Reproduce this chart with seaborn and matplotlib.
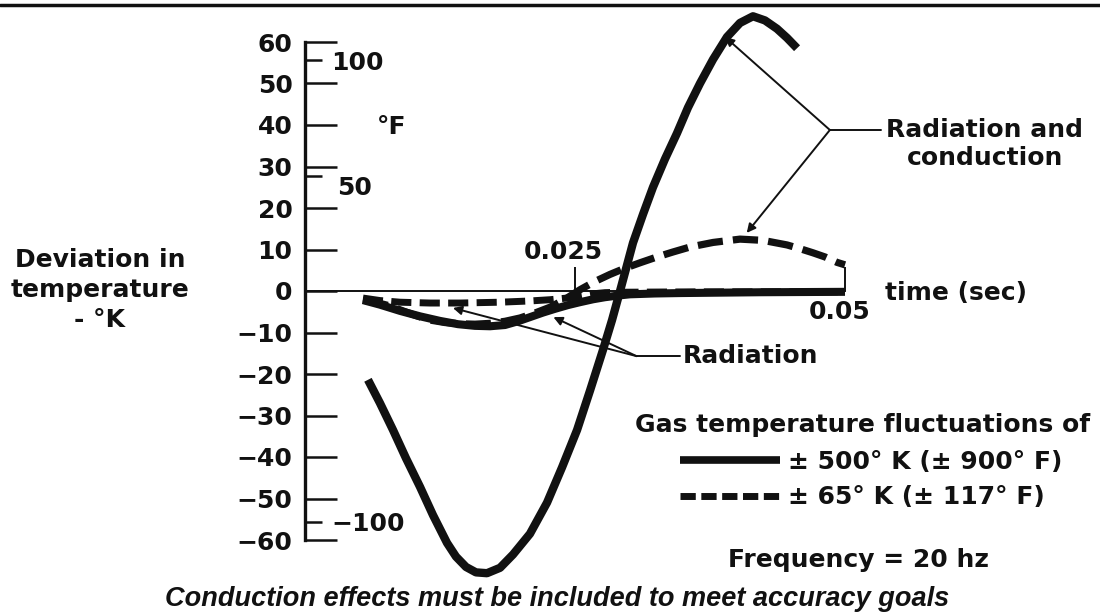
import matplotlib
matplotlib.use("Agg")
import matplotlib.pyplot as plt
import seaborn as sns
import pandas as pd
from matplotlib.lines import Line2D

# ---------------- data ----------------
# time in seconds, deviation in K
t_rc_500 = [0.00583, 0.00694, 0.00815, 0.00935, 0.01065, 0.01185, 0.01315, 0.01398, 0.01491,
            0.01583, 0.01685, 0.01806, 0.01926, 0.02083, 0.02241, 0.02380, 0.02519, 0.02639,
            0.02759, 0.02843, 0.02917, 0.03037, 0.03130, 0.03222, 0.03333, 0.03444, 0.03546,
            0.03657, 0.03778, 0.03907, 0.04028, 0.04148, 0.04259, 0.04370, 0.04463, 0.04556]
v_rc_500 = [-21.4, -27.0, -33.5, -40.3, -47.2, -54.0, -60.7, -64.0, -66.5,
            -67.8, -68.0, -66.7, -63.5, -58.5, -51.0, -42.5, -33.5, -24.0,
            -14.2, -7.0, 0.0, 11.6, 18.5, 25.0, 31.8, 38.0, 44.2,
            50.0, 55.8, 61.2, 64.6, 66.2, 65.2, 63.2, 61.0, 58.5]

t_rc_65 = [0.00537, 0.00667, 0.00787, 0.00917, 0.01037, 0.01157, 0.01296, 0.01435, 0.01574,
           0.01713, 0.01852, 0.01991, 0.02130, 0.02269, 0.02407, 0.02546, 0.02685, 0.02824,
           0.02963, 0.03102, 0.03259, 0.03407, 0.03565, 0.03778, 0.04028, 0.04241, 0.04463,
           0.04583, 0.04704, 0.04815, 0.04926, 0.05000]
v_rc_65 = [-2.2, -2.8, -3.6, -4.9, -6.0, -7.0, -7.6, -7.9, -8.0,
           -7.8, -7.3, -6.5, -5.3, -3.9, -2.0, 0.3, 2.3, 4.0,
           5.5, 6.8, 8.2, 9.4, 10.6, 11.7, 12.5, 12.2, 11.1,
           10.2, 9.2, 8.2, 6.9, 6.3]

t_rad_500 = [0.00537, 0.00694, 0.00880, 0.01065, 0.01250, 0.01417, 0.01574, 0.01713, 0.01852,
             0.01972, 0.02083, 0.02204, 0.02315, 0.02435, 0.02546, 0.02667, 0.02778, 0.02898,
             0.03009, 0.03241, 0.03472, 0.04213, 0.05000]
v_rad_500 = [-2.2, -3.3, -4.8, -6.1, -7.2, -8.0, -8.4, -8.5, -8.2,
             -7.3, -6.3, -5.2, -4.3, -3.4, -2.7, -2.0, -1.5, -1.1,
             -0.8, -0.6, -0.5, -0.3, -0.2]

t_rad_65 = [0.00537, 0.00694, 0.00880, 0.01157, 0.01435, 0.01806, 0.02083, 0.02269, 0.02426,
            0.02546, 0.02657, 0.02778, 0.02917, 0.03657, 0.05000]
v_rad_65 = [-1.7, -2.3, -2.7, -2.9, -2.9, -2.7, -2.4, -2.1, -1.7,
            -1.2, -0.7, -0.4, -0.3, -0.2, -0.2]

k_ticks = [-60, -50, -40, -30, -20, -10, 0, 10, 20, 30, 40, 50, 60]
f_ticks = [100, 50, -100]
x_ticks = [0.025, 0.05]
x_tick_labels = ["0.025", "0.05"]

legend_labels = ["± 500° K (± 900° F)", "± 65° K (± 117° F)"]

# ---------------- styling ----------------
sns.set_theme(style="white")
plt.rcParams["font.family"] = ["DejaVu Sans"]
plt.rcParams["font.weight"] = "bold"
FS = 18
INK = "#111111"

W, H = 1100, 616
fig = plt.figure(figsize=(11, 6.16), dpi=100)
ax = fig.add_axes([0, 0, 1, 1])
ax.set_facecolor("white")

X0, XS = 305, 10800.0   # pixel of t=0, pixels per second
Y0, YS = 291, 4.15      # pixel row of 0 K, pixels per K
ax.set_xlim(-X0 / XS, (W - X0) / XS)
ax.set_ylim(-(H - Y0) / YS, Y0 / YS)


def fx(px):
    return px / W


def fy(py):
    return 1 - py / H


df = pd.concat([
    pd.DataFrame({"t": t_rc_500, "v": v_rc_500, "s": "rc500"}),
    pd.DataFrame({"t": t_rc_65, "v": v_rc_65, "s": "rc65"}),
    pd.DataFrame({"t": t_rad_500, "v": v_rad_500, "s": "rad500"}),
    pd.DataFrame({"t": t_rad_65, "v": v_rad_65, "s": "rad65"}),
])

# radiation-only curves (drawn first)
sns.lineplot(data=df[df.s == "rad500"], x="t", y="v", ax=ax, color=INK, lw=5.8,
             solid_capstyle="butt", solid_joinstyle="round", zorder=3)
sns.lineplot(data=df[df.s == "rad65"], x="t", y="v", ax=ax, color=INK, lw=5.0,
             linestyle=(0, (2.9, 1.2)), dash_capstyle="butt", zorder=4)
# radiation + conduction curves
sns.lineplot(data=df[df.s == "rc65"], x="t", y="v", ax=ax, color=INK, lw=5.2,
             linestyle=(0, (3.5, 1.4)), dash_capstyle="butt", zorder=4)
sns.lineplot(data=df[df.s == "rc500"], x="t", y="v", ax=ax, color=INK, lw=6.0,
             solid_capstyle="butt", solid_joinstyle="round", zorder=5)

# ---------------- axes ----------------
for side in ["top", "right"]:
    ax.spines[side].set_visible(False)
ax.spines["left"].set_position(("data", 0))
ax.spines["left"].set_bounds(-60, 60)
ax.spines["left"].set_linewidth(2.4)
ax.spines["left"].set_color(INK)
ax.spines["bottom"].set_position(("data", 0))
ax.spines["bottom"].set_bounds(0, 0.05)
ax.spines["bottom"].set_linewidth(1.4)
ax.spines["bottom"].set_color(INK)

ax.set_yticks(k_ticks)
ax.set_yticklabels([str(k).replace("-", "\u2212") for k in k_ticks])
ax.tick_params(axis="y", direction="in", length=23, width=1.8, color=INK,
               pad=9, labelsize=FS, labelcolor=INK, left=True)
ax.set_xticks(x_ticks)
ax.set_xticklabels(["", ""])
ax.tick_params(axis="x", direction="in", length=17, width=1.4, color=INK, bottom=True)
ax.set_xlabel("")
ax.set_ylabel("")
ax.grid(False)

# Fahrenheit scale on the same spine
ax2 = ax.twinx()
ax2.set_ylim(ax.get_ylim()[0] * 1.8, ax.get_ylim()[1] * 1.8)
for s in ax2.spines.values():
    s.set_visible(False)
ax2.spines["right"].set_position(("axes", X0 / W))
ax2.set_yticks(f_ticks)
ax2.set_yticklabels([str(f).replace("-", "\u2212") if f != 50 else "" for f in f_ticks])
ax2.tick_params(axis="y", direction="out", length=12, width=1.8, color=INK,
                pad=7, labelsize=FS, labelcolor=INK, right=True)
ax2.grid(False)
fig.text(fx(337), fy(188), str(f_ticks[1]), fontsize=FS, ha="left", va="center", color=INK)

# ---------------- texts ----------------
fig.text(fx(392), fy(127), "°F", fontsize=FS, ha="center", va="center", color=INK)
fig.text(fx(100), fy(290), "Deviation in\ntemperature\n- °K", fontsize=FS,
         ha="center", va="center", linespacing=1.3, color=INK)
fig.text(fx(563), fy(252), x_tick_labels[0], fontsize=FS, ha="center", va="center", color=INK)
fig.text(fx(840), fy(312), x_tick_labels[1], fontsize=FS, ha="center", va="center", color=INK)
fig.text(fx(885), fy(293), "time (sec)", fontsize=FS, ha="left", va="center", color=INK)

# annotations
arrow = dict(arrowstyle="-|>", color=INK, lw=1.4, mutation_scale=13,
             shrinkA=0, shrinkB=0)
tail_rc = (0.0486, 38.8)
ax.annotate("", xy=(0.0389, 61.2), xytext=tail_rc, arrowprops=arrow, zorder=6)
ax.annotate("", xy=(0.0409, 14.0), xytext=tail_rc, arrowprops=arrow, zorder=6)
ax.plot([tail_rc[0], 0.0533], [tail_rc[1], tail_rc[1]], color=INK, lw=1.4)
fig.text(fx(985), fy(144), "Radiation and\nconduction", fontsize=FS, ha="center",
         va="center", linespacing=1.2, color=INK)

tail_r = (0.0307, -15.7)
ax.annotate("", xy=(0.0137, -4.1), xytext=tail_r, arrowprops=arrow, zorder=6)
ax.annotate("", xy=(0.0230, -6.3), xytext=tail_r, arrowprops=arrow, zorder=6)
ax.plot([tail_r[0], 0.0347], [tail_r[1], tail_r[1]], color=INK, lw=1.4)
fig.text(fx(683), fy(356), "Radiation", fontsize=FS, ha="left", va="center", color=INK)

# legend
fig.text(fx(1090), fy(425), "Gas temperature fluctuations of", fontsize=FS,
         ha="right", va="center", color=INK)
handles = [Line2D([], [], color=INK, lw=5.5, solid_capstyle="butt"),
           Line2D([], [], color=INK, lw=5.0, linestyle=(0, (2.2, 0.8)),
                  dash_capstyle="butt")]
leg = ax.legend(handles, legend_labels, loc="upper left",
                bbox_to_anchor=(fx(680), fy(450)), bbox_transform=fig.transFigure,
                frameon=False, fontsize=FS, handlelength=4.0, handletextpad=0.3,
                labelspacing=0.45, borderpad=0, borderaxespad=0)
for t in leg.get_texts():
    t.set_color(INK)
fig.text(fx(858), fy(560), "Frequency = 20 hz", fontsize=FS, ha="center",
         va="center", color=INK)

fig.text(fx(557), fy(599), "Conduction effects must be included to meet accuracy goals",
         fontsize=19.5, ha="center", va="center", style="italic", color=INK,
         family=["Liberation Sans", "DejaVu Sans"])

# frame rule at the top
fig.add_artist(Line2D([0, 1], [fy(5), fy(5)], color=INK, lw=2.5))

fig.savefig("out.png", dpi=100, facecolor="white")
